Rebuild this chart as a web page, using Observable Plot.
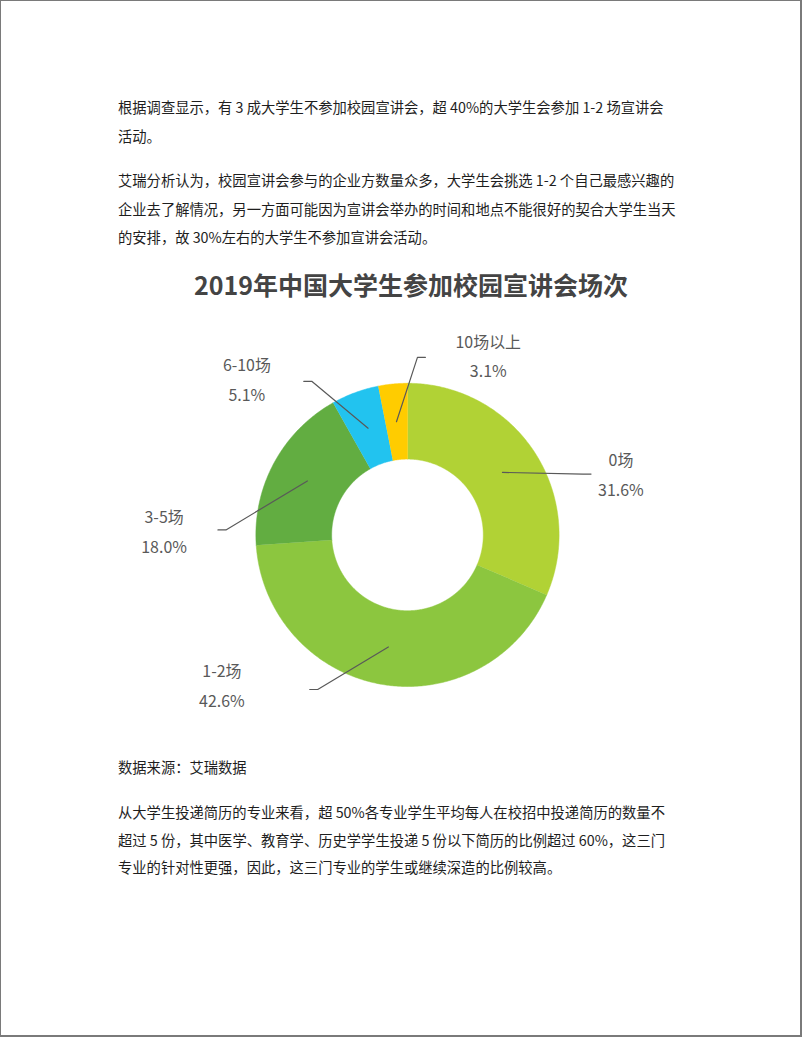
<!DOCTYPE html>
<html>
<head>
<meta charset="utf-8">
<script src="https://cdn.jsdelivr.net/npm/d3@7"></script>
<script src="https://cdn.jsdelivr.net/npm/@observablehq/plot@0.6"></script>
<style>
  html, body { margin: 0; padding: 0; background: #fff; }
  #page {
    position: relative; width: 802px; height: 1037px; box-sizing: border-box;
    border-left: 1px solid #7a7a7a; border-top: 1px solid #7a7a7a;
    border-right: 2px solid #7a7a7a; border-bottom: 2px solid #7a7a7a;
    font-family: "Noto Sans CJK SC", "Noto Sans", sans-serif; color: #1e1e1e;
    overflow: hidden;
  }
  .para { position: absolute; left: 117px; font-size: 14.3px; line-height: 28.5px; white-space: nowrap; }
  .title { position: absolute; left: 9px; width: 802px; top: 267px; text-align: center;
    font-size: 25px; font-weight: bold; color: #444; line-height: 32px; }
  #chart { position: absolute; left: -1px; top: 299px; }
</style>
</head>
<body>
<div id="page">
  <div class="para" style="top:92px">根据调查显示，有 3 成大学生不参加校园宣讲会，超 40%的大学生会参加 1-2 场宣讲会<br>活动。</div>
  <div class="para" style="top:165px">艾瑞分析认为，校园宣讲会参与的企业方数量众多，大学生会挑选 1-2 个自己最感兴趣的<br>企业去了解情况，另一方面可能因为宣讲会举办的时间和地点不能很好的契合大学生当天<br>的安排，故 30%左右的大学生不参加宣讲会活动。</div>
  <div class="title">2019年中国大学生参加校园宣讲会场次</div>
  <div id="chart"></div>
  <div class="para" style="top:752px">数据来源：艾瑞数据</div>
  <div class="para" style="top:797px; line-height:27.7px">从大学生投递简历的专业来看，超 50%各专业学生平均每人在校招中投递简历的数量不<br>超过 5 份，其中医学、教育学、历史学学生投递 5 份以下简历的比例超过 60%，这三门<br>专业的针对性更强，因此，这三门专业的学生或继续深造的比例较高。</div>
</div>
<script>
// ---- data ----
const categories = ["0场", "1-2场", "3-5场", "6-10场", "10场以上"];
const shares = [31.6, 42.6, 18.0, 5.1, 3.1];
const shareLabels = ["31.6%", "42.6%", "18.0%", "5.1%", "3.1%"];
const sliceColors = ["#b1d235", "#8cc63f", "#62ad41", "#22c3ef", "#ffcc00"];

// ---- layout (pixel offsets from donut centre) ----
const outerR = 152, innerR = 76, leaderR = 114;
const leaderEnd = [[184, -61], [-98, 155], [-190, -5], [-104, -154], [18, -178]];
const tailDir = [1, -1, -1, -1, 1];
const labelAt = [[214, -74], [-186, 137], [-244, -17], [-161, -169], [81, -193]];

const total = d3.sum(shares);
let acc = 0;
const slices = categories.map((c, i) => {
  const a0 = acc / total * 2 * Math.PI;
  acc += shares[i];
  const a1 = acc / total * 2 * Math.PI;
  return {key: c, a0, a1, mid: (a0 + a1) / 2, i};
});

const px = (r, a) => r * Math.sin(a);
const py = (r, a) => -r * Math.cos(a);

const ring = [];
for (const s of slices) {
  const n = Math.max(2, Math.ceil((s.a1 - s.a0) / (Math.PI / 360)));
  for (let k = 0; k <= n; k++) {
    const a = s.a0 + (s.a1 - s.a0) * k / n;
    ring.push({key: s.key, x: px(outerR, a), y: py(outerR, a)});
  }
  for (let k = n; k >= 0; k--) {
    const a = s.a0 + (s.a1 - s.a0) * k / n;
    ring.push({key: s.key, x: px(innerR, a), y: py(innerR, a)});
  }
}

const leaders = [];
for (const s of slices) {
  const [ex, ey] = leaderEnd[s.i];
  leaders.push({key: s.key, x: px(leaderR, s.mid), y: py(leaderR, s.mid)});
  leaders.push({key: s.key, x: ex - tailDir[s.i] * 8, y: ey});
  leaders.push({key: s.key, x: ex, y: ey});
}

const labels = [];
slices.forEach(s => {
  const [lx, ly] = labelAt[s.i];
  labels.push({x: lx, y: ly, text: s.key});
  labels.push({x: lx, y: ly + 30, text: shareLabels[s.i]});
});

const chart = Plot.plot({
  width: 802,
  height: 440,
  margin: 0,
  x: {domain: [-408, 394], range: [0, 802], axis: null},
  y: {domain: [-235, 205], range: [0, 440], axis: null},
  color: {domain: categories, range: sliceColors},
  style: {fontFamily: "'Noto Sans CJK SC', sans-serif", background: "transparent"},
  marks: [
    Plot.line(ring, {x: "x", y: "y", z: "key", fill: "key", stroke: "key", strokeWidth: 0.5, curve: "linear"}),
    Plot.line(leaders, {x: "x", y: "y", z: "key", stroke: "#595959", strokeWidth: 1.2}),
    Plot.text(labels, {x: "x", y: "y", text: "text", fontSize: 16, fill: "#595959", textAnchor: "middle"})
  ]
});
document.getElementById("chart").appendChild(chart);
</script>
</body>
</html>
